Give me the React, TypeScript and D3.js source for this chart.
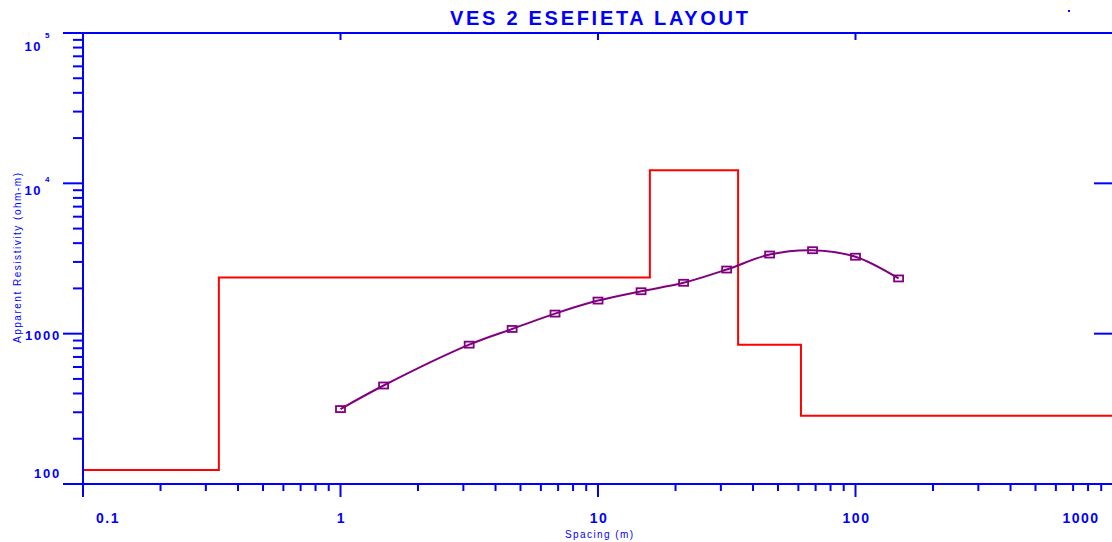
import React from "react";
import * as d3 from "d3";

// ---- data ----
const spacing = [1, 1.47, 3.16, 4.64, 6.81, 10, 14.7, 21.5, 31.6, 46.4, 68.1, 100, 147];
const apparentRes = [315, 452, 845, 1075, 1360, 1660, 1915, 2180, 2670, 3360, 3590, 3250, 2330];
const layerTops = [0.1, 0.337, 15.9, 35.0, 61.4];
const layerRes = [124, 2360, 12200, 845, 284];
const xTickLabels = ["0.1", "1", "10", "100", "1000"];
const xTickValues = [0.1, 1, 10, 100, 1000];
const yTickValues = [100, 1000, 10000, 100000];
const titleText = "VES 2 ESEFIETA LAYOUT";
const xTitle = "Spacing (m)";
const yTitle = "Apparent Resistivity (ohm-m)";

const W = 1112;
const H = 542;
const BLUE = "#0000FF";
const RED = "#FF0000";
const PURPLE = "#800080";
const FONT = "'Liberation Sans', Arial, sans-serif";

export default function App() {
  const x = d3.scaleLog().domain([0.1, 1000]).range([83, 1113]);
  const y = d3.scaleLog().domain([100, 100000]).range([484, 33]);

  const xMinor: number[] = [];
  const yMinor: number[] = [];
  for (let e = -1; e < 3; e++) {
    for (let k = 2; k <= 9; k++) xMinor.push(k * Math.pow(10, e));
  }
  for (let e = 2; e < 5; e++) {
    for (let k = 2; k <= 9; k++) yMinor.push(k * Math.pow(10, e));
  }

  const stepPts: [number, number][] = layerTops.map((t, i) => [t, layerRes[i]]);
  stepPts.push([1200, layerRes[layerRes.length - 1]]);
  const stepLine = d3
    .line<[number, number]>()
    .x((d) => x(d[0]))
    .y((d) => y(d[1]))
    .curve(d3.curveStepAfter);

  const curvePts: [number, number][] = spacing.map((s, i) => [s, apparentRes[i]]);
  const smooth = d3
    .line<[number, number]>()
    .x((d) => x(d[0]))
    .y((d) => y(d[1]))
    .curve(d3.curveCatmullRom.alpha(0.5));

  const x0 = x(0.1);
  const yb = y(100);
  const yt = y(100000);

  const xLabelDx = [25, 1, 1, 1, -32];
  const yLabelDy: Record<number, number> = { 100: -6, 1000: 6, 10000: 12, 100000: 18 };

  return (
    <svg
      width={W}
      height={H}
      style={{ position: "absolute", left: 0, top: 0, background: "#fff" }}
    >
      <rect x={0} y={0} width={W} height={H} fill="#fff" />
      {/* title */}
      <text
        x={599}
        y={25}
        textAnchor="middle"
        fill={BLUE}
        fontFamily={FONT}
        fontWeight="bold"
        fontSize={20}
        textLength={298}
        lengthAdjust="spacing"
      >
        {titleText}
      </text>
      <rect x={1068} y={10} width={2} height={2} fill={BLUE} />

      {/* red layered model */}
      <path d={stepLine(stepPts) || ""} fill="none" stroke={RED} strokeWidth={2} />

      {/* purple curve and points */}
      <path d={smooth(curvePts) || ""} fill="none" stroke={PURPLE} strokeWidth={2} />
      {curvePts.map((d, i) => (
        <rect
          key={i}
          x={x(d[0]) - 4.5}
          y={y(d[1]) - 3}
          width={9}
          height={6}
          fill="none"
          stroke={PURPLE}
          strokeWidth={1.8}
        />
      ))}

      {/* frame lines */}
      <line x1={63} x2={W + 5} y1={yt} y2={yt} stroke={BLUE} strokeWidth={2} />
      <line x1={63} x2={W + 5} y1={yb} y2={yb} stroke={BLUE} strokeWidth={2} />
      <line x1={x0} x2={x0} y1={yt} y2={497} stroke={BLUE} strokeWidth={2} />
      <line x1={x(1000)} x2={x(1000)} y1={yt} y2={yb} stroke={BLUE} strokeWidth={2} />

      {/* left axis ticks */}
      {yTickValues.map((v) => (
        <line key={"ly" + v} x1={63} x2={x0} y1={y(v)} y2={y(v)} stroke={BLUE} strokeWidth={2} />
      ))}
      {yMinor.map((v) => (
        <line key={"lm" + v} x1={73} x2={x0} y1={y(v)} y2={y(v)} stroke={BLUE} strokeWidth={2} />
      ))}
      {/* right axis ticks */}
      {yTickValues.map((v) => (
        <line
          key={"ry" + v}
          x1={x(1000) - 19}
          x2={x(1000)}
          y1={y(v)}
          y2={y(v)}
          stroke={BLUE}
          strokeWidth={2}
        />
      ))}

      {/* bottom axis ticks */}
      {xTickValues.map((v) => (
        <line key={"bx" + v} x1={x(v)} x2={x(v)} y1={yb} y2={497} stroke={BLUE} strokeWidth={2} />
      ))}
      {xMinor.map((v) => (
        <line key={"bm" + v} x1={x(v)} x2={x(v)} y1={yb} y2={491} stroke={BLUE} strokeWidth={2} />
      ))}
      {/* top axis ticks */}
      {xTickValues.slice(1).map((v) => (
        <line key={"tx" + v} x1={x(v)} x2={x(v)} y1={yt} y2={yt + 7} stroke={BLUE} strokeWidth={2} />
      ))}

      {/* x tick labels */}
      {xTickValues.map((v, i) => (
        <text
          key={"xl" + v}
          x={x(v) + xLabelDx[i]}
          y={523}
          textAnchor="middle"
          fill={BLUE}
          fontFamily={FONT}
          fontWeight="bold"
          fontSize={14}
          letterSpacing={1.5}
        >
          {xTickLabels[i]}
        </text>
      ))}

      {/* y tick labels */}
      {yTickValues.map((v) => {
        const e = Math.round(Math.log10(v));
        const yy = y(v) + yLabelDy[v];
        if (e >= 4) {
          return (
            <g key={"yl" + v}>
              <text
                x={42}
                y={yy}
                textAnchor="end"
                fill={BLUE}
                fontFamily={FONT}
                fontWeight="bold"
                fontSize={13}
                letterSpacing={1.5}
              >
                10
              </text>
              <text
                x={45}
                y={yy - 13}
                fill={BLUE}
                fontFamily={FONT}
                fontWeight="bold"
                fontSize={8}
              >
                {String(e)}
              </text>
            </g>
          );
        }
        return (
          <text
            key={"yl" + v}
            x={61}
            y={yy}
            textAnchor="end"
            fill={BLUE}
            fontFamily={FONT}
            fontWeight="bold"
            fontSize={13}
            letterSpacing={1.8}
          >
            {String(v)}
          </text>
        );
      })}

      {/* axis titles */}
      <text
        x={599}
        y={538}
        textAnchor="middle"
        fill={BLUE}
        fontFamily={FONT}
        fontSize={10}
        textLength={68}
        lengthAdjust="spacing"
      >
        {xTitle}
      </text>
      <text
        transform={`translate(21,258) rotate(-90)`}
        textAnchor="middle"
        fill={BLUE}
        fontFamily={FONT}
        fontSize={10}
        textLength={170}
        lengthAdjust="spacing"
      >
        {yTitle}
      </text>
    </svg>
  );
}
